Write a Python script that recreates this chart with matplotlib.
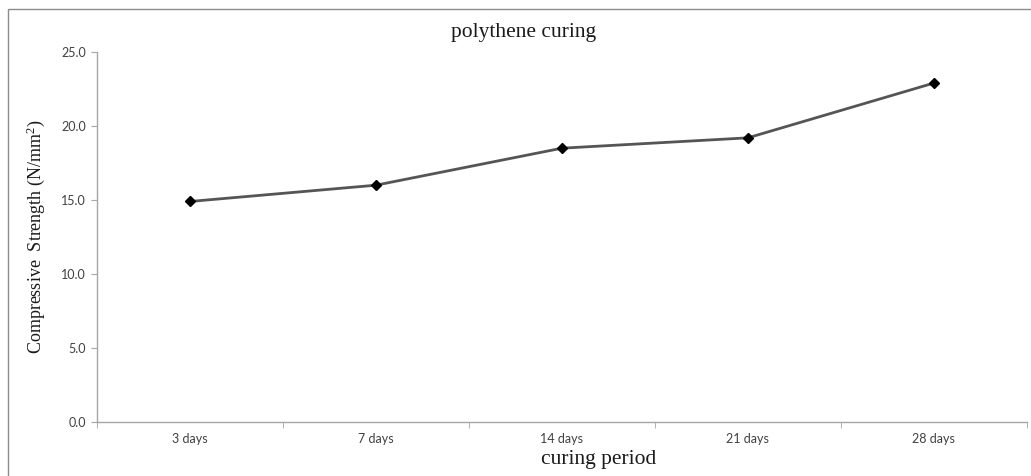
import matplotlib.pyplot as plt
from matplotlib.patches import Rectangle
from matplotlib.ticker import FixedLocator

# data
periods = ["3 days", "7 days", "14 days", "21 days", "28 days"]
strength = [14.9, 16.0, 18.5, 19.2, 22.9]
y_ticks = [0, 5, 10, 15, 20, 25]

plt.rcParams["mathtext.fontset"] = "custom"
plt.rcParams["mathtext.rm"] = "Liberation Serif"
plt.rcParams["mathtext.it"] = "Liberation Serif:italic"

fig = plt.figure(figsize=(10.31, 4.76), dpi=100)
ax = fig.add_axes([0.094, 0.1134, 0.902, 0.7774])

x = list(range(len(periods)))
ax.plot(x, strength, color="#555555", linewidth=2.0,
        marker="D", markersize=5.5, markerfacecolor="black",
        markeredgecolor="black", zorder=3)

ax.set_xlim(-0.5, len(periods) - 0.5)
ax.set_ylim(0, 25)
ax.set_yticks(y_ticks)
ax.set_yticklabels([f"{v:.1f}" for v in y_ticks])
ax.set_xticks(x)
ax.set_xticklabels(periods)
ax.xaxis.set_minor_locator(FixedLocator([i - 0.5 for i in range(len(periods) + 1)]))

for side in ["top", "right"]:
    ax.spines[side].set_visible(False)
for side in ["left", "bottom"]:
    ax.spines[side].set_color("#a6a6a6")
    ax.spines[side].set_linewidth(1.0)

ax.tick_params(axis="y", direction="out", length=4, color="#a6a6a6",
               labelsize=9, labelcolor="#404040", pad=4)
ax.tick_params(axis="x", which="major", length=0, labelsize=9,
               labelcolor="#404040", pad=8)
ax.tick_params(axis="x", which="minor", direction="out", length=4,
               color="#a6a6a6")
for lab in ax.get_xticklabels() + ax.get_yticklabels():
    lab.set_family("Lato")

fig.text(524 / 1031, 1 - 32 / 476, "polythene curing", family="Liberation Serif",
         fontsize=15.5, color="#1a1a1a", ha="center", va="center")
ax.set_xlabel("curing period", family="Liberation Serif", fontsize=15.5,
              color="#1a1a1a")
ax.xaxis.set_label_coords(0.54, -0.075)
ax.set_ylabel("Compressive  Strength (N/mm$^2$)", family="Liberation Serif",
              fontsize=13, color="#1a1a1a", labelpad=10)

# outer chart frame
fig.patches.append(Rectangle((8 / 1031, -0.05), 1.1, 1 - 9 / 476 + 0.05,
                             transform=fig.transFigure, fill=False,
                             edgecolor="#8c8c8c", linewidth=1.0))

fig.savefig("out.png", dpi=100)
